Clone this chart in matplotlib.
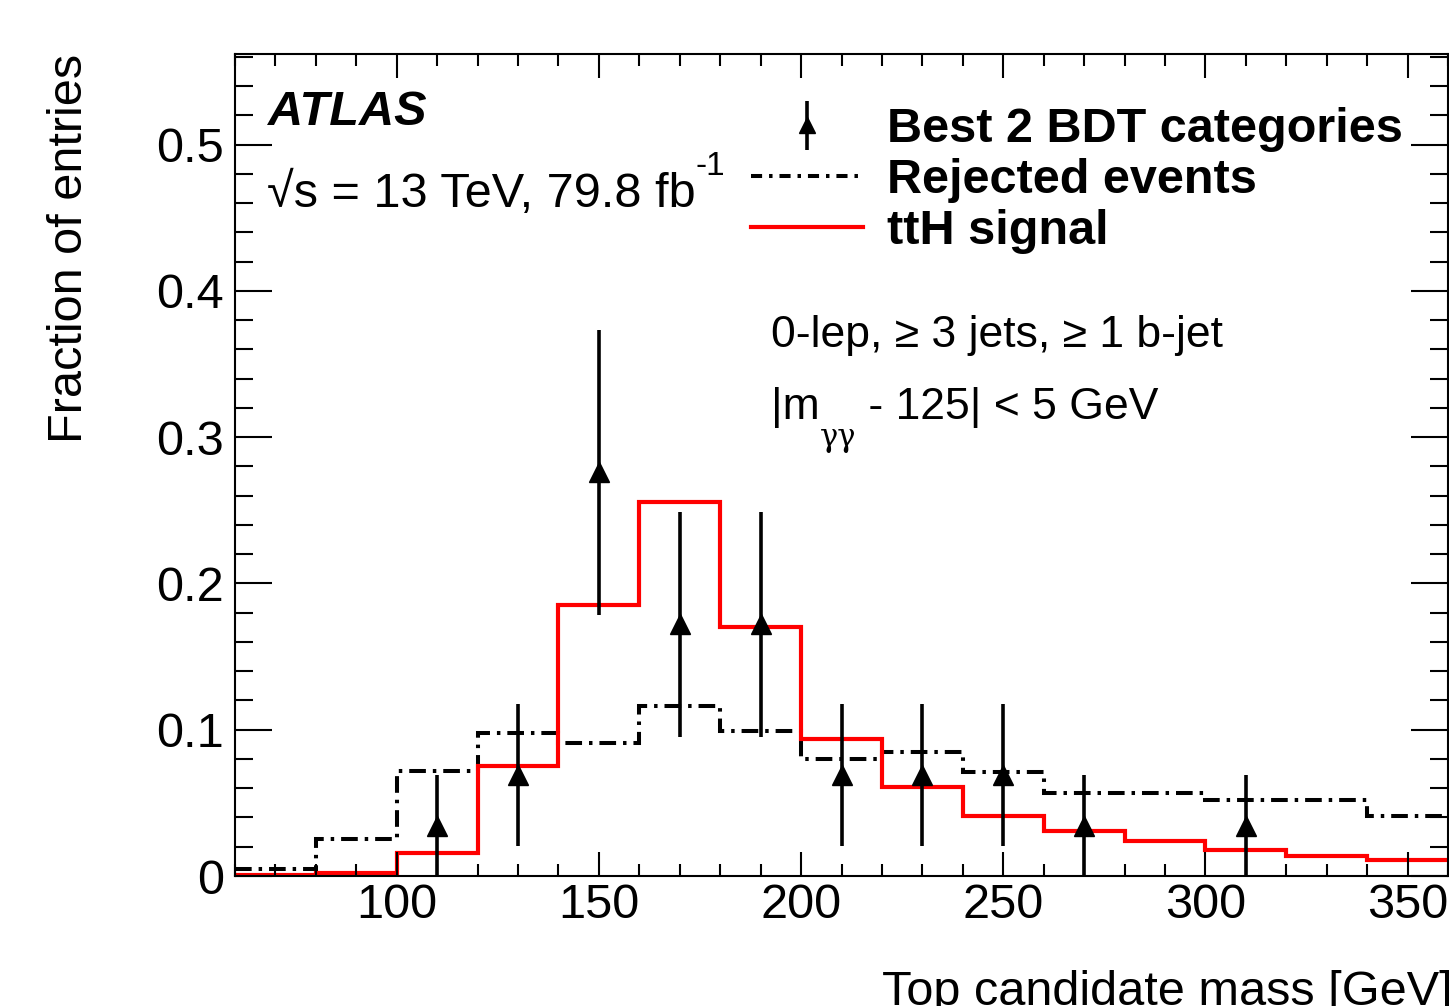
import numpy as np
import matplotlib
matplotlib.use('Agg')
import matplotlib.pyplot as plt
from matplotlib.lines import Line2D
from matplotlib.ticker import MultipleLocator

plt.rcParams['font.family'] = ['Liberation Sans', 'DejaVu Sans']
plt.rcParams['lines.scale_dashes'] = False

# bins of top candidate mass [GeV]
bin_edges = [60, 80, 100, 120, 140, 160, 180, 200, 220, 240, 260, 280, 300, 320, 340, 360]

# ttH signal (normalised)
tth = [0.0005, 0.002, 0.016, 0.075, 0.185, 0.256, 0.170, 0.094, 0.061,
       0.041, 0.031, 0.024, 0.018, 0.014, 0.011]

# rejected events (normalised)
rejected = [0.005, 0.025, 0.072, 0.098, 0.091, 0.116, 0.099, 0.080, 0.085,
            0.071, 0.057, 0.057, 0.052, 0.052, 0.041]

# best 2 BDT categories, non-empty bins only
data_x = [110, 130, 150, 170, 190, 210, 230, 250, 270, 310]
data_y = [0.0345, 0.069, 0.276, 0.172, 0.172, 0.069, 0.069, 0.069, 0.0345, 0.0345]
data_err = [0.0345, 0.0488, 0.0975, 0.077, 0.077, 0.0488, 0.0488, 0.0488, 0.0345, 0.0345]

dashdot = (0, (12, 5, 2.5, 5))

fig = plt.figure(figsize=(14.49, 10.06), dpi=100)
ax = fig.add_axes([235/1449, 130/1006, (1448-235)/1449, (876-54)/1006])

ax.stairs(rejected, bin_edges, baseline=None, color='black', lw=2.9, linestyle=dashdot)
ax.stairs(tth, bin_edges, baseline=None, color='red', lw=3.0)
eb = ax.errorbar(data_x, data_y, yerr=data_err, fmt='^', color='black', ms=14,
                 elinewidth=2.6, capsize=0, zorder=5)

ax.set_xlim(60, 360)
ax.set_ylim(0, 0.562)

ax.xaxis.set_major_locator(MultipleLocator(50))
ax.xaxis.set_minor_locator(MultipleLocator(10))
ax.yaxis.set_major_locator(MultipleLocator(0.1))
ax.yaxis.set_minor_locator(MultipleLocator(0.02))
ax.yaxis.set_major_formatter(plt.FuncFormatter(lambda v, p: '0' if abs(v) < 1e-9 else f'{v:g}'))

ax.tick_params(which='both', direction='in', top=True, right=True, width=1.5, labelsize=35)
ax.tick_params(axis='x', which='major', length=17.3, pad=5)
ax.tick_params(axis='x', which='minor', length=8.6)
ax.tick_params(axis='y', which='major', length=26.6, pad=8)
ax.tick_params(axis='y', which='minor', length=13)
for s in ax.spines.values():
    s.set_linewidth(1.5)

ax.set_xlabel('Top candidate mass [GeV]', fontsize=35, ha='right')
ax.xaxis.set_label_coords(1.004, -0.114)
ax.set_ylabel('Fraction of entries', fontsize=35, ha='right')
ax.yaxis.set_label_coords(-0.118, 1.0)

ax.text(0.027, 0.9136, 'ATLAS', transform=ax.transAxes, fontsize=35,
        fontweight='bold', fontstyle='italic', va='baseline')
t = ax.text(0.026, 0.814, '\u221as = 13 TeV, 79.8 fb',
            transform=ax.transAxes, fontsize=35, va='baseline')
ax.annotate('-1', xy=(1.0, 0.78), xycoords=t, fontsize=24, va='bottom', ha='left')

ax.text(0.442, 0.6436, '0-lep, \u2265 3 jets, \u2265 1 b-jet', transform=ax.transAxes,
        fontsize=32, va='baseline')
m = ax.text(0.442, 0.556, '|m', transform=ax.transAxes, fontsize=32, va='baseline')
g = ax.annotate('\u03b3\u03b3', xy=(1.0, 0.14), xycoords=m, fontsize=22,
                va='top', ha='left', family='DejaVu Serif')
ax.annotate(' - 125| < 5 GeV', xy=(1.0, 0.0), xycoords=(g, m), fontsize=32,
            va='bottom', ha='left')

handles = [eb,
           Line2D([], [], color='black', lw=2.9, linestyle=(0, (8, 5, 2.5, 5))),
           Line2D([], [], color='red', lw=3.0)]
labels = ['Best 2 BDT categories', 'Rejected events', 'ttH signal']
ax.legend(handles, labels, loc='upper left', bbox_to_anchor=(0.4255, 0.935),
          frameon=False, borderpad=0, borderaxespad=0, handlelength=2.3,
          handletextpad=0.5, labelspacing=0.12, markerscale=0.8,
          prop={'family': 'Liberation Sans', 'weight': 'bold', 'size': 35})

fig.savefig('out.png', dpi=100)
